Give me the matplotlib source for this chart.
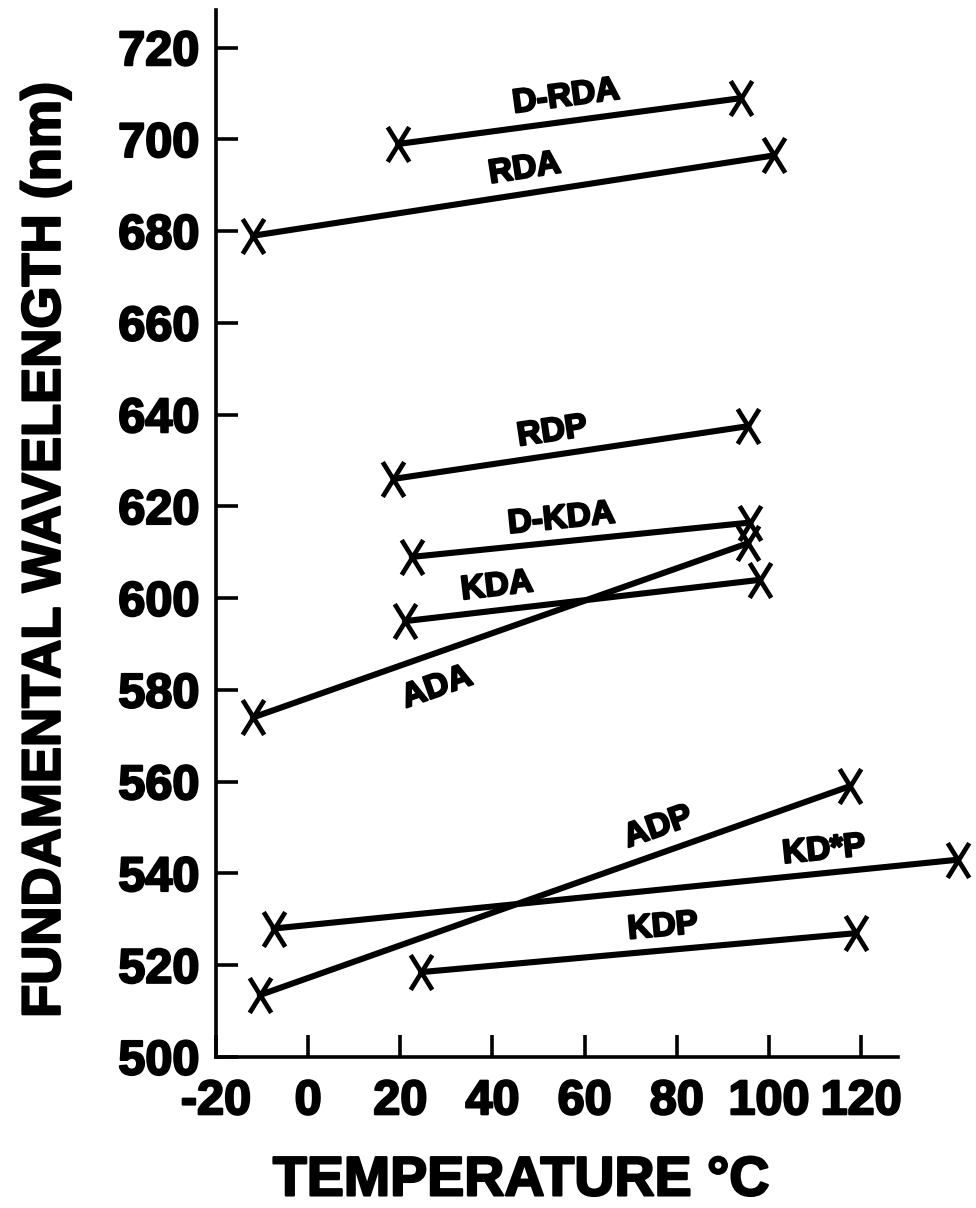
import math
import matplotlib
matplotlib.use("Agg")
import matplotlib.pyplot as plt
from matplotlib.path import Path
import matplotlib.patheffects as pe

# crystal names and the two end points of each line (temperature degC, wavelength nm)
names = ["D-RDA", "RDA", "RDP", "D-KDA", "KDA", "ADA", "ADP", "KD*P", "KDP"]
t_start = [19.5, -12.0, 18.5, 22.5, 21.0, -12.0, -10.5, -7.5, 24.5]
t_end = [94.0, 101.0, 95.5, 96.0, 98.0, 95.5, 117.5, 141.0, 119.0]
wl_start = [699.0, 679.0, 626.0, 609.0, 595.0, 574.0, 513.5, 528.0, 518.5]
wl_end = [709.0, 696.5, 637.5, 616.5, 604.0, 612.0, 559.0, 543.0, 527.0]

# where the name sits (temperature, wavelength)
label_t = [56, 47, 53, 55, 41, 28, 76, 112, 77]
label_wl = [709.2, 693.5, 636.2, 617.2, 602.5, 580.5, 550.0, 545.0, 528.3]

xticks = [-20, 0, 20, 40, 60, 80, 100, 120]
yticks = [500, 520, 540, 560, 580, 600, 620, 640, 660, 680, 700, 720]

plt.rcParams['font.family'] = ['Liberation Sans', 'DejaVu Sans']
plt.rcParams['font.weight'] = 'bold'

heavy = [pe.withStroke(linewidth=1.6, foreground='black')]

# tall hand-drawn looking cross
cross = Path([(-0.62, -1), (0.62, 1), (-0.62, 1), (0.62, -1)],
             [Path.MOVETO, Path.LINETO, Path.MOVETO, Path.LINETO])

fig = plt.figure(figsize=(9.76, 12.08), dpi=100)
ax = fig.add_axes([0.2213, 0.125, 0.6987, 0.8667])

for i in range(len(names)):
    ax.plot([t_start[i], t_end[i]], [wl_start[i], wl_end[i]], color='black',
            linewidth=4.4, marker=cross, markersize=25, markeredgewidth=3.4,
            solid_capstyle='round', clip_on=False)

ax.set_xlim(-20, 128)
ax.set_ylim(500, 728.2)
fig.canvas.draw()

# rotate each name along its line
for i in range(len(names)):
    p1 = ax.transData.transform((t_start[i], wl_start[i]))
    p2 = ax.transData.transform((t_end[i], wl_end[i]))
    ang = math.degrees(math.atan2(p2[1] - p1[1], p2[0] - p1[0]))
    ax.text(label_t[i], label_wl[i], names[i], fontsize=24, fontweight='bold',
            rotation=ang, rotation_mode='anchor', ha='center', va='center',
            clip_on=False, path_effects=heavy)

ax.set_xticks(xticks)
ax.set_yticks(yticks)
ax.set_xticklabels([str(v) for v in xticks])
ax.set_yticklabels([str(v) for v in yticks])
ax.tick_params(axis='both', direction='in', length=16, width=2.6, labelsize=35)
ax.tick_params(axis='x', pad=16)
ax.tick_params(axis='y', pad=12)
for lab in ax.get_xticklabels() + ax.get_yticklabels():
    lab.set_path_effects(heavy)

for s in ['top', 'right']:
    ax.spines[s].set_visible(False)
for s in ['left', 'bottom']:
    ax.spines[s].set_linewidth(2.6)

ax.set_xlabel("TEMPERATURE °C", fontsize=40, fontweight='bold',
              path_effects=heavy)
ax.xaxis.set_label_coords(0.447, -0.094)
ax.set_ylabel("FUNDAMENTAL WAVELENGTH (nm)", fontsize=39, fontweight='bold',
              path_effects=heavy)
ax.yaxis.set_label_coords(-0.213, 0.484)

fig.savefig("out.png", dpi=100, facecolor='white')
